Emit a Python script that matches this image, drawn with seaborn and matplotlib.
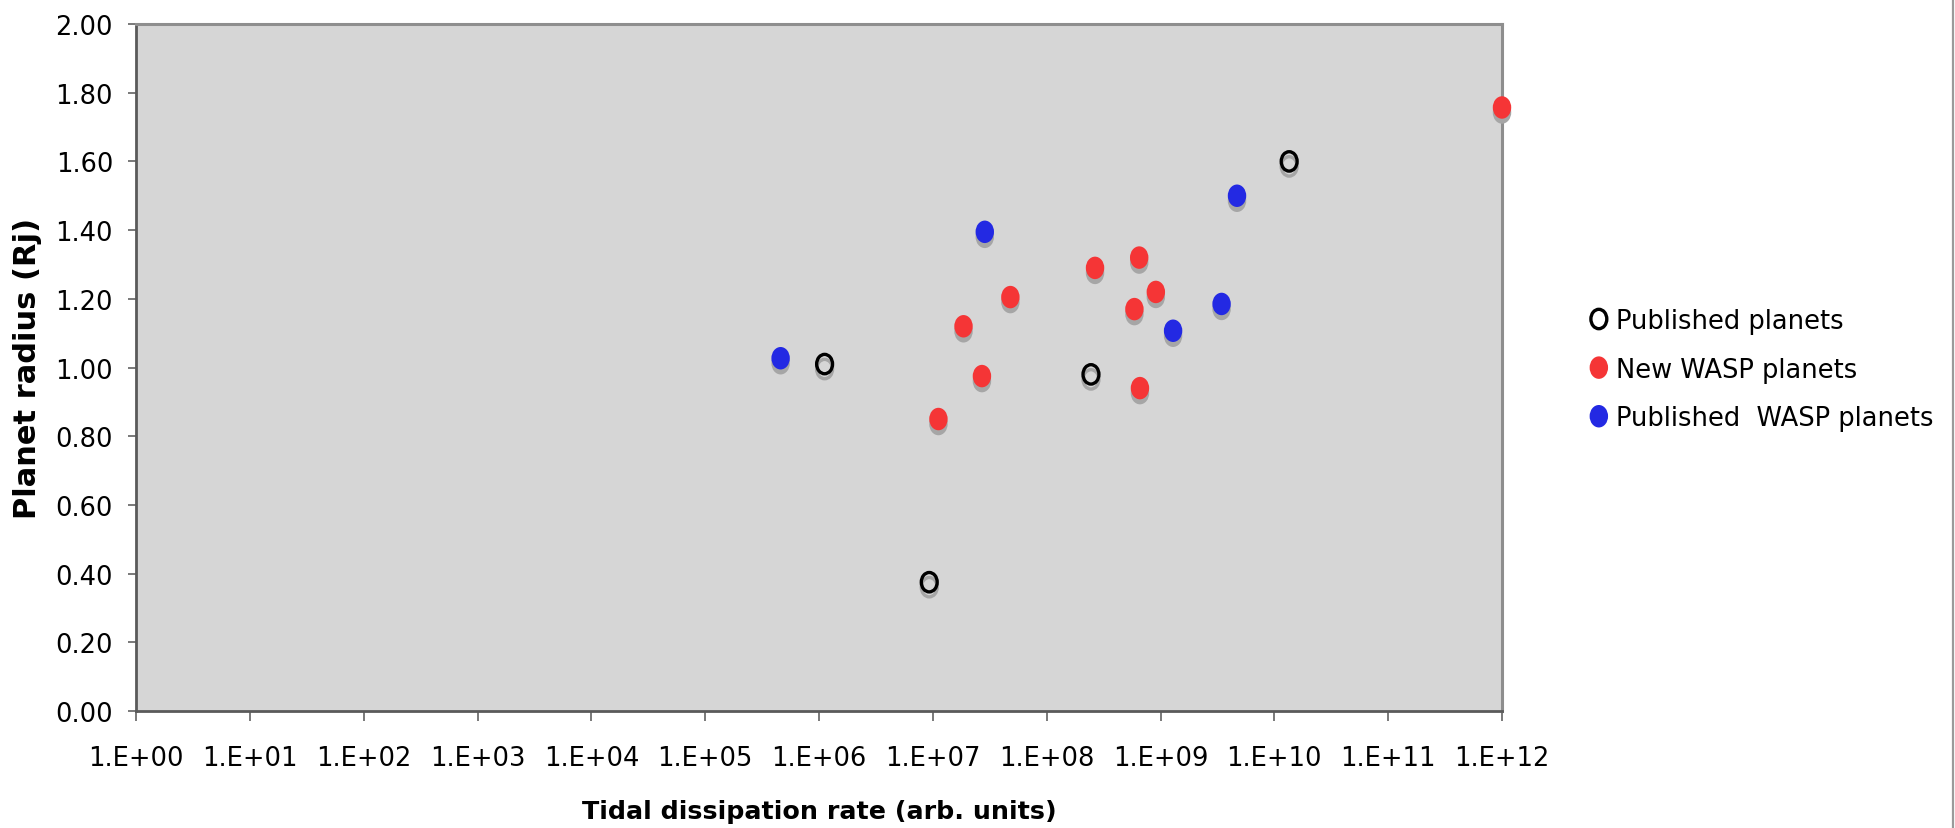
import numpy as np
import matplotlib
matplotlib.use("Agg")
import matplotlib.pyplot as plt
import matplotlib.transforms as mtransforms
from matplotlib.path import Path
from matplotlib.lines import Line2D
from matplotlib.ticker import FixedLocator, FixedFormatter
import seaborn as sns

# ---------------- data ----------------
published_x = [1.12e6, 9.3e6, 2.45e8, 1.35e10]
published_y = [1.01, 0.375, 0.98, 1.60]

new_wasp_x = [1.12e7, 1.86e7, 2.7e7, 4.8e7, 2.66e8, 5.9e8, 6.5e8, 6.6e8, 9.1e8, 1.0e12]
new_wasp_y = [0.85, 1.12, 0.975, 1.205, 1.29, 1.17, 1.32, 0.94, 1.22, 1.757]

pub_wasp_x = [4.6e5, 2.86e7, 1.29e9, 3.44e9, 4.7e9]
pub_wasp_y = [1.027, 1.395, 1.107, 1.185, 1.50]

series_labels = ["Published planets", "New WASP planets", "Published  WASP planets"]

x_tick_values = [1e0, 1e1, 1e2, 1e3, 1e4, 1e5, 1e6, 1e7, 1e8, 1e9, 1e10, 1e11, 1e12]
x_tick_labels = ["1.E+00", "1.E+01", "1.E+02", "1.E+03", "1.E+04", "1.E+05", "1.E+06",
                 "1.E+07", "1.E+08", "1.E+09", "1.E+10", "1.E+11", "1.E+12"]
y_tick_values = [0.0, 0.2, 0.4, 0.6, 0.8, 1.0, 1.2, 1.4, 1.6, 1.8, 2.0]
y_tick_labels = ["0.00", "0.20", "0.40", "0.60", "0.80", "1.00", "1.20", "1.40",
                 "1.60", "1.80", "2.00"]

x_label = "Tidal dissipation rate (arb. units)"
y_label = "Planet radius (Rj)"

# ---------------- style ----------------
sns.set_style("white")
plt.rcParams["font.family"] = ["DejaVu Sans"]
plt.rcParams["text.color"] = "black"
plt.rcParams["axes.labelcolor"] = "black"

W, H = 1955, 829
fig = plt.figure(figsize=(W / 100, H / 100), dpi=100)
fig.patch.set_facecolor("white")
ax = fig.add_axes([136 / W, 1 - 712 / H, (1502 - 136) / W, (712 - 25) / H])
ax.set_facecolor("#D6D6D6")

# elliptical marker (taller than wide)
circ = Path.unit_circle()
ell = Path(circ.vertices * np.array([0.82, 1.0]), circ.codes)

shadow_tr = mtransforms.offset_copy(ax.transData, fig=fig, x=0, y=-5, units="dots")
shadow_col = "#A6A6A6"

filled_s = 262
hollow_s = 195
hollow_lw = 2.4

# shadows
sns.scatterplot(x=published_x, y=published_y, ax=ax, marker=ell, s=hollow_s,
                facecolor="none", edgecolor=shadow_col, linewidth=hollow_lw,
                transform=shadow_tr, clip_on=False, zorder=2.6, label="_nolegend_")
sns.scatterplot(x=new_wasp_x, y=new_wasp_y, ax=ax, marker=ell, s=filled_s,
                color=shadow_col, edgecolor="none", linewidth=0,
                transform=shadow_tr, clip_on=False, zorder=2.6, label="_nolegend_")
sns.scatterplot(x=pub_wasp_x, y=pub_wasp_y, ax=ax, marker=ell, s=filled_s,
                color=shadow_col, edgecolor="none", linewidth=0,
                transform=shadow_tr, clip_on=False, zorder=2.6, label="_nolegend_")

# markers
sns.scatterplot(x=published_x, y=published_y, ax=ax, marker=ell, s=hollow_s,
                facecolor="none", edgecolor="black", linewidth=hollow_lw,
                clip_on=False, zorder=3, label=series_labels[0])
sns.scatterplot(x=new_wasp_x, y=new_wasp_y, ax=ax, marker=ell, s=filled_s,
                color="#F53536", edgecolor="none", linewidth=0,
                clip_on=False, zorder=3, label=series_labels[1])
sns.scatterplot(x=pub_wasp_x, y=pub_wasp_y, ax=ax, marker=ell, s=filled_s,
                color="#2329E3", edgecolor="none", linewidth=0,
                clip_on=False, zorder=3, label=series_labels[2])

# axes
ax.set_xscale("log")
ax.set_xlim(1e0, 1e12)
ax.set_ylim(0, 2.0)
ax.xaxis.set_major_locator(FixedLocator(x_tick_values))
ax.xaxis.set_major_formatter(FixedFormatter(x_tick_labels))
ax.xaxis.set_minor_locator(FixedLocator([]))
ax.yaxis.set_major_locator(FixedLocator(y_tick_values))
ax.yaxis.set_major_formatter(FixedFormatter(y_tick_labels))
ax.grid(False)

ax.tick_params(axis="x", which="major", direction="out", length=7.5, width=1.1,
               color="#555555", pad=17, labelsize=18.5, labelcolor="black",
               bottom=True)
ax.tick_params(axis="y", which="major", direction="out", length=6, width=1.1,
               color="#555555", pad=10.5, labelsize=18.5, labelcolor="black",
               left=True)

for side in ["top", "right"]:
    ax.spines[side].set_color("#8E8E8E")
    ax.spines[side].set_linewidth(2.2)
for side in ["left", "bottom"]:
    ax.spines[side].set_color("#5A5A5A")
    ax.spines[side].set_linewidth(2.0)

ax.set_xlabel(x_label, fontsize=18.3, fontweight="bold", color="black")
ax.xaxis.set_label_coords(0.5, -0.128)
ax.set_ylabel(y_label, fontsize=22, fontweight="bold", color="black")
ax.yaxis.set_label_coords(-0.069, 0.5)

# legend
handles = ax.collections[3:6]
fs = 18.5
leg = ax.legend(handles=handles, labels=series_labels, loc="upper left",
                bbox_to_anchor=(1586 / W, 1 - 309 / H),
                bbox_transform=fig.transFigure, frameon=False, fontsize=fs,
                handlelength=1.0, handletextpad=0.17, labelspacing=0.88,
                borderpad=0, borderaxespad=0, scatterpoints=1,
                scatteryoffsets=[0.5])
for t in leg.get_texts():
    t.set_color("black")

# right figure border line
fig.add_artist(Line2D([1952.5 / W, 1952.5 / W], [0, 1], transform=fig.transFigure,
                      color="#9A9A9A", linewidth=1.6))

fig.savefig("out.png", dpi=100)
